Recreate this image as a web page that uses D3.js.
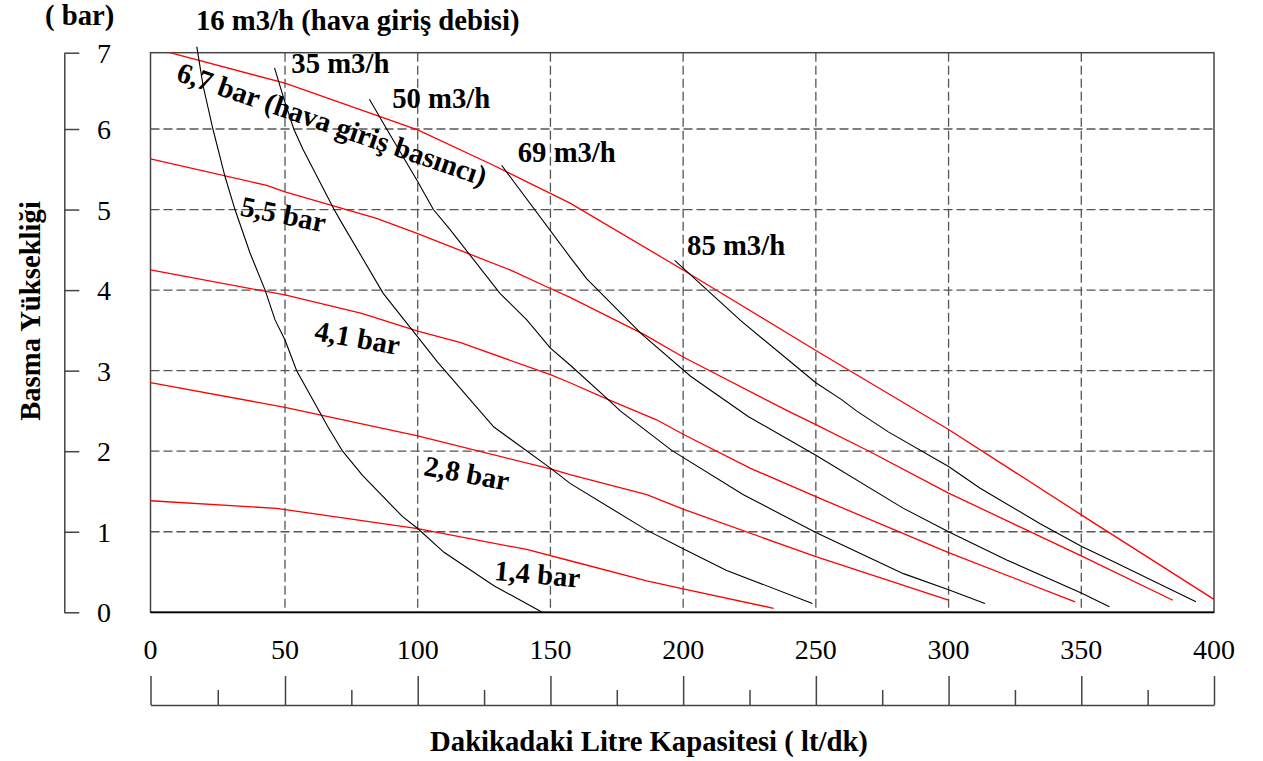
<!DOCTYPE html>
<html>
<head>
<meta charset="utf-8">
<script src="https://cdn.jsdelivr.net/npm/d3@7/dist/d3.min.js"></script>
<style>
  html, body { margin: 0; padding: 0; background: #fff; }
  svg { display: block; }
  text { font-family: "Liberation Serif", "Times New Roman", Times, serif; fill: #000; }
</style>
</head>
<body>
<svg id="chart" width="1263" height="761"></svg>
<script>
// ---------- DATA ----------
const xTicks = [0, 50, 100, 150, 200, 250, 300, 350, 400];
const xMinorTicks = [25, 75, 125, 175, 225, 275, 325, 375];
const yTicks = [0, 1, 2, 3, 4, 5, 6, 7];

// Air inlet pressure curves (red) : [capacity lt/dk, head bar]
const p67 = [[7.2, 7.0], [50, 6.6], [100, 5.99], [128.5, 5.55], [157.4, 5.08], [200, 4.25], [250, 3.25], [300, 2.27], [350, 1.21], [400, 0.16]];
const p55 = [[0, 5.63], [43.2, 5.30], [50, 5.22], [84.5, 4.89], [100, 4.70], [134.8, 4.25], [150, 4.02], [157.4, 3.91], [185.2, 3.45], [200, 3.17], [239.4, 2.50], [250, 2.33], [270.6, 1.99], [300, 1.48], [350, 0.70], [384.5, 0.15]];
const p41 = [[0, 4.25], [50, 3.94], [78.9, 3.71], [100, 3.49], [115.9, 3.35], [150, 2.95], [157.4, 2.85], [171.8, 2.64], [190, 2.39], [200, 2.21], [225.2, 1.79], [250, 1.435], [300, 0.74], [347.7, 0.13]];
const p28 = [[0, 2.85], [50, 2.545], [100, 2.19], [150, 1.78], [157.4, 1.71], [186.3, 1.46], [200, 1.28], [250, 0.69], [300, 0.15]];
const p14 = [[0, 1.385], [46.9, 1.29], [100, 1.04], [141, 0.78], [157.4, 0.64], [186.3, 0.39], [200, 0.29], [234.1, 0.05]];

// Air flow curves (black)
const f16 = [[17.2, 7.08], [19.6, 6.56], [23.2, 6.0], [27.7, 5.41], [31.4, 5.0], [37.0, 4.46], [42.6, 4.0], [46.3, 3.63], [50, 3.38], [54.4, 3.0], [66.2, 2.30], [71.7, 2.0], [79.2, 1.70], [94.2, 1.19], [100, 1.04], [109.9, 0.745], [128.7, 0.33], [146.9, 0.0]];
const f35 = [[46.1, 6.80], [50, 6.35], [53.3, 6.0], [56.9, 5.74], [68.5, 5.0], [71.1, 4.85], [87.0, 3.96], [94.9, 3.63], [100, 3.42], [107.4, 3.11], [128.7, 2.30], [150, 1.79], [157.4, 1.60], [186.3, 1.02], [200, 0.79], [216.4, 0.52], [248.7, 0.11]];
const f50 = [[81.8, 6.39], [88.3, 6.0], [99.6, 5.37], [105.9, 5.0], [112.2, 4.75], [131, 3.96], [141.1, 3.63], [150, 3.28], [157.4, 3.07], [171.8, 2.64], [176.3, 2.50], [195.7, 2.01], [222.7, 1.46], [250, 0.99], [283, 0.48], [300, 0.28], [313.7, 0.11]];
const f69 = [[131.6, 5.55], [157.4, 4.41], [163.7, 4.14], [184.5, 3.45], [202.8, 2.93], [224.5, 2.43], [250, 1.95], [283, 1.29], [300, 1.0], [321.9, 0.65], [350, 0.24], [360.6, 0.07]];
const f85 = [[196.8, 4.37], [221.7, 3.62], [250, 2.85], [259.7, 2.64], [265.3, 2.50], [277.3, 2.24], [300, 1.81], [311.9, 1.54], [334.5, 1.10], [350, 0.82], [363.4, 0.61], [393.2, 0.13]];

const pressureNames = ["6,7 bar (hava giriş basıncı)", "5,5 bar", "4,1 bar", "2,8 bar", "1,4 bar"];
const flowNames = ["16 m3/h (hava giriş debisi)", "35 m3/h", "50 m3/h", "69 m3/h", "85 m3/h"];

const yTitle = "Basma Yüksekliği";
const yUnit = "( bar)";
const xTitle = "Dakikadaki Litre Kapasitesi ( lt/dk)";

// ---------- LAYOUT ----------
const svg = d3.select("#chart");
const x = d3.scaleLinear().domain([0, 50, 400]).range([150.5, 285, 1214]);
const y = d3.scaleLinear().domain([0, 6, 7]).range([612.3, 129, 52.7]);

const FONT = 28.7;
const TICKFONT = 28;
const gridColor = "#555";

// Grid
const grid = svg.append("g");
grid.selectAll("line.vx").data(xTicks.filter(d => d > 0 && d < 400)).join("line")
  .attr("x1", d => x(d)).attr("x2", d => x(d))
  .attr("y1", y(7)).attr("y2", y(0))
  .attr("stroke", gridColor).attr("stroke-width", 1.3).attr("stroke-dasharray", "9,4");
grid.selectAll("line.hy").data(yTicks.filter(d => d > 0 && d < 7)).join("line")
  .attr("x1", x(0)).attr("x2", x(400))
  .attr("y1", d => y(d)).attr("y2", d => y(d))
  .attr("stroke", gridColor).attr("stroke-width", 1.3).attr("stroke-dasharray", "9,4");

// Frame
svg.append("rect")
  .attr("x", x(0)).attr("y", y(7))
  .attr("width", x(400) - x(0)).attr("height", y(0) - y(7))
  .attr("fill", "none").attr("stroke", "#444").attr("stroke-width", 1.5);
svg.append("line").attr("x1", x(0)).attr("x2", x(400)).attr("y1", y(0)).attr("y2", y(0))
  .attr("stroke", "#000").attr("stroke-width", 1.8);

// Left detached y axis
const yAxisX = 64.3;
const yAxis = d3.axisRight(y).tickValues(yTicks).tickSize(15).tickSizeOuter(0).tickFormat("");
const gy = svg.append("g").attr("transform", `translate(${yAxisX},0)`).call(yAxis);
gy.select(".domain").attr("stroke", "#444").attr("stroke-width", 1.5);
gy.selectAll(".tick line").attr("stroke", "#444").attr("stroke-width", 1.5);
svg.append("g").selectAll("text").data(yTicks).join("text")
  .attr("x", 104).attr("y", d => y(d)).attr("dy", "0.36em")
  .attr("text-anchor", "middle").style("font-size", TICKFONT + "px")
  .text(d => d);

// X tick labels
svg.append("g").selectAll("text").data(xTicks).join("text")
  .attr("x", d => x(d)).attr("y", 658.5)
  .attr("text-anchor", "middle").style("font-size", TICKFONT + "px")
  .text(d => d);

// Bottom detached x axis
const xAxisY = 705;
const gx = svg.append("g").attr("transform", `translate(0,${xAxisY})`)
  .call(d3.axisTop(x).tickValues(xTicks).tickSize(29).tickSizeOuter(0).tickFormat(""));
gx.select(".domain").attr("stroke", "#444").attr("stroke-width", 1.5);
gx.selectAll(".tick line").attr("stroke", "#444").attr("stroke-width", 1.5);
const gxm = svg.append("g").attr("transform", `translate(0,${xAxisY})`)
  .call(d3.axisTop(x).tickValues(xMinorTicks).tickSize(15).tickSizeOuter(0).tickFormat(""));
gxm.select(".domain").remove();
gxm.selectAll(".tick line").attr("stroke", "#444").attr("stroke-width", 1.5);

// Curves
const line = d3.line().x(d => x(d[0])).y(d => y(d[1]));
const pressure = [p67, p55, p41, p28, p14];
const flow = [f16, f35, f50, f69, f85];
svg.append("g").selectAll("path").data(pressure).join("path")
  .attr("d", line).attr("fill", "none").attr("stroke", "#ff0000").attr("stroke-width", 1.3);
svg.append("g").selectAll("path").data(flow).join("path")
  .attr("d", line).attr("fill", "none").attr("stroke", "#000").attr("stroke-width", 1.1);

// Curve labels (anchors in data units, rotation in degrees)
const flowLabelPos = [[16.9, 7.30], [52.4, 6.73], [90.4, 6.28], [137.7, 5.594], [201.5, 4.436]];
svg.append("g").selectAll("text").data(flowNames).join("text")
  .attr("x", (d, i) => x(flowLabelPos[i][0])).attr("y", (d, i) => y(flowLabelPos[i][1]))
  .style("font-size", FONT + "px").style("font-weight", "bold")
  .text(d => d);

const pressureLabelPos = [[9.1, 6.64, 19], [33.0, 4.93, 11.5], [60.7, 3.38, 10], [101.9, 1.705, 10.5], [128.6, 0.40, 5]];
svg.append("g").selectAll("text").data(pressureNames).join("text")
  .attr("transform", (d, i) => `translate(${x(pressureLabelPos[i][0])},${y(pressureLabelPos[i][1])}) rotate(${pressureLabelPos[i][2]})`)
  .style("font-size", FONT + "px").style("font-weight", "bold")
  .text(d => d);

// Axis titles
svg.append("text").attr("x", 45).attr("y", 25)
  .style("font-size", FONT + "px").style("font-weight", "bold").text(yUnit);
svg.append("text").attr("transform", "translate(40,311) rotate(-90)")
  .attr("text-anchor", "middle")
  .style("font-size", FONT + "px").style("font-weight", "bold").text(yTitle);
svg.append("text").attr("x", 649).attr("y", 751)
  .attr("text-anchor", "middle")
  .style("font-size", FONT + "px").style("font-weight", "bold").text(xTitle);
</script>
</body>
</html>
